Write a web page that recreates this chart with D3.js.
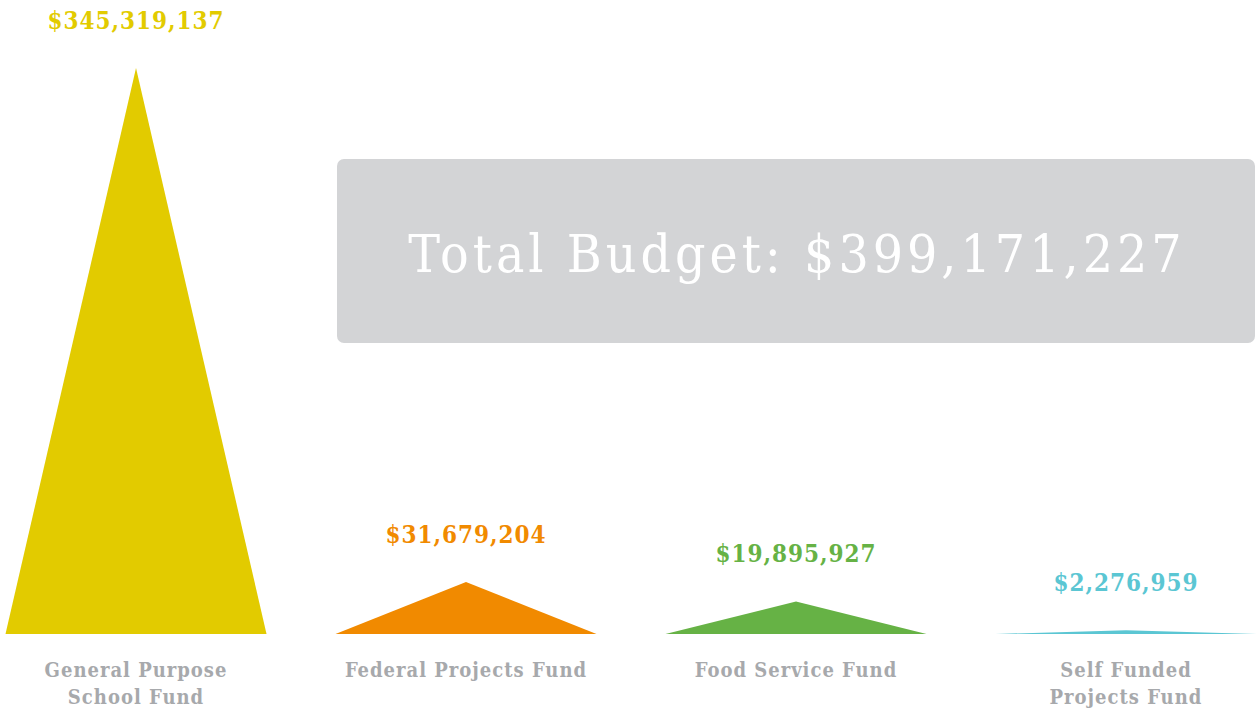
<!DOCTYPE html>
<html>
<head>
<meta charset="utf-8">
<script src="https://cdn.jsdelivr.net/npm/d3@7"></script>
<style>
  body { margin: 0; background: #fff; }
  svg text { font-family: "DejaVu Serif", serif; font-stretch: condensed; }
</style>
</head>
<body>
<div id="chart"></div>
<script>
var width = 1258,
    height = 709;

// fund data
var funds = ["General Purpose School Fund", "Federal Projects Fund", "Food Service Fund", "Self Funded Projects Fund"];
var fundLines = [["General Purpose", "School Fund"], ["Federal Projects Fund"], ["Food Service Fund"], ["Self Funded", "Projects Fund"]];
var amounts = [345319137, 31679204, 19895927, 2276959];
var colors = ["#e2cb00", "#f18a00", "#66b245", "#5bc6d3"];
var totalBudget = 399171227;

var svg = d3.select("#chart")
  .append("svg")
  .attr("width", width)
  .attr("height", height);

var x = d3.scaleBand()
  .domain(funds)
  .range([5.5, 1256.5])
  .paddingInner(0.209)
  .paddingOuter(0);

var baseY = 634;
var y = d3.scaleLinear()
  .domain([0, d3.max(amounts)])
  .range([baseY, 68]);

var fmt = d3.format("$,");

// total box
svg.append("rect")
  .attr("x", 337)
  .attr("y", 159)
  .attr("width", 918)
  .attr("height", 184)
  .attr("rx", 7)
  .attr("fill", "#d3d4d6");

svg.append("text")
  .attr("x", 797)
  .attr("y", 272)
  .attr("text-anchor", "middle")
  .attr("fill", "#fff")
  .style("font-size", "53px")
  .style("letter-spacing", "4px")
  .text("Total Budget: " + fmt(totalBudget));

var g = svg.selectAll(".fund")
  .data(funds)
  .enter()
  .append("g")
  .attr("class", "fund");

g.append("path")
  .attr("d", function(d, i) {
    var x0 = x(d), x1 = x(d) + x.bandwidth(), xm = x(d) + x.bandwidth() / 2;
    return "M" + x0 + "," + baseY + "L" + xm + "," + y(amounts[i]) + "L" + x1 + "," + baseY + "Z";
  })
  .attr("fill", function(d, i) { return colors[i]; });

g.append("text")
  .attr("x", function(d) { return x(d) + x.bandwidth() / 2; })
  .attr("y", function(d, i) { return y(amounts[i]) - 39; })
  .attr("text-anchor", "middle")
  .attr("fill", function(d, i) { return colors[i]; })
  .style("font-size", "24px")
  .style("font-weight", "bold")
  .style("letter-spacing", "1px")
  .text(function(d, i) { return fmt(amounts[i]); });

g.each(function(d, i) {
  var t = d3.select(this).append("text")
    .attr("x", x(d) + x.bandwidth() / 2)
    .attr("y", 677)
    .attr("text-anchor", "middle")
    .attr("fill", "#a7a9ac")
    .style("font-size", "20px")
    .style("font-weight", "bold")
    .style("letter-spacing", "1px");
  fundLines[i].forEach(function(line, j) {
    t.append("tspan")
      .attr("x", x(d) + x.bandwidth() / 2)
      .attr("dy", j === 0 ? 0 : 27)
      .text(line);
  });
});
</script>
</body>
</html>
